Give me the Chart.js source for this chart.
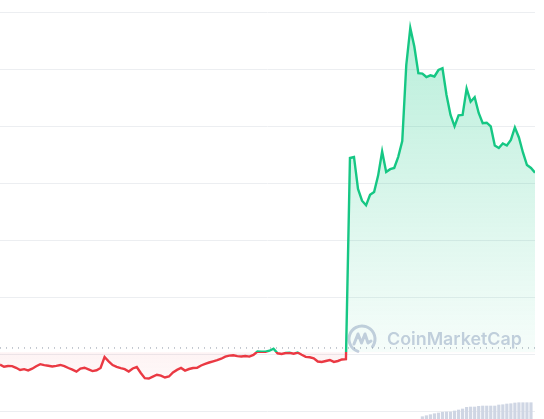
<!DOCTYPE html>
<html>
<head>
<meta charset="utf-8">
<script src="https://cdn.jsdelivr.net/npm/chart.js@4.4.1/dist/chart.umd.min.js"></script>
<style>
  html, body { margin: 0; padding: 0; background: #fff; }
  #wrap { width: 544px; height: 419px; position: relative; }
</style>
</head>
<body>
<div id="wrap"><canvas id="priceChart"></canvas></div>
<script>
// price per step
const prices = [
  0.830, 0.793, 0.807, 0.805, 0.775, 0.737, 0.751, 0.730, 0.760, 0.802,
  0.839, 0.823, 0.811, 0.798, 0.809, 0.825, 0.805, 0.772, 0.742, 0.707,
  0.763, 0.777, 0.747, 0.718, 0.732, 0.772, 0.965, 0.889, 0.823, 0.791,
  0.768, 0.751, 0.711, 0.763, 0.789, 0.684, 0.593, 0.588, 0.621, 0.654,
  0.637, 0.605, 0.623, 0.695, 0.739, 0.772, 0.726, 0.754, 0.772, 0.775,
  0.816, 0.844, 0.868, 0.889, 0.911, 0.935, 0.972, 0.988, 0.995, 0.981,
  0.974, 0.982, 0.972, 1.000, 1.060, 1.058, 1.058, 1.075, 1.109, 1.030,
  1.018, 1.035, 1.039, 1.023, 1.044, 1.004, 0.967, 0.960, 0.942, 0.886,
  0.877, 0.895, 0.912, 0.879, 0.895, 0.921, 0.926,
  4.456, 4.474, 3.912, 3.707, 3.626, 3.812, 3.861, 4.147, 4.570, 4.211,
  4.260, 4.281, 4.477, 4.754, 6.088, 6.737, 6.412, 5.944, 5.937, 5.877,
  5.907, 5.886, 6.000, 6.030, 5.561, 5.211, 5.012, 5.205, 5.211, 5.672,
  5.444, 5.521, 5.246, 5.065, 5.075, 5.009, 4.675, 4.632, 4.712, 4.675,
  4.772, 4.991, 4.816, 4.553, 4.333, 4.281, 4.198
];
// volume bars only show up from this step on
const volumeStart = 105;
const volumes = [
  0.55, 0.79, 1.03, 1.26, 1.43, 1.60, 1.67, 1.67, 1.91, 2.15,
  2.39, 2.79, 2.86, 2.86, 3.03, 3.10, 3.10, 3.10, 3.10, 3.34,
  3.41, 3.58, 3.65, 3.82, 3.89, 3.89, 3.89, 3.89
];
const openPrice = 1.05;   // green above, red below
const refPrice = 1.123;   // dotted reference line

const green = '#16c784';
const red = '#ea3943';

const steps = prices.map((p, i) => i);

function splitFraction(chart) {
    const { chartArea, scales } = chart;
    const split = scales.y.getPixelForValue(openPrice);
    const f = (split - chartArea.top) / (chartArea.bottom - chartArea.top);
    return Math.min(Math.max(f, 0), 1);
}

function lineColor(context) {
    const chart = context.chart;
    if (!chart.chartArea) return green;
    const { ctx, chartArea } = chart;
    const f = splitFraction(chart);
    const g = ctx.createLinearGradient(0, chartArea.top, 0, chartArea.bottom);
    g.addColorStop(0, green);
    g.addColorStop(f, green);
    g.addColorStop(f, red);
    g.addColorStop(1, red);
    return g;
}

function fillColor(context) {
    const chart = context.chart;
    if (!chart.chartArea) return 'rgba(22,199,132,0.15)';
    const { ctx, chartArea } = chart;
    const f = splitFraction(chart);
    const g = ctx.createLinearGradient(0, chartArea.top, 0, chartArea.bottom);
    g.addColorStop(0, 'rgba(22,199,132,0.32)');
    g.addColorStop(f, 'rgba(22,199,132,0.04)');
    g.addColorStop(f, 'rgba(234,57,67,0.06)');
    g.addColorStop(1, 'rgba(234,57,67,0.0)');
    return g;
}

// faint CoinMarketCap watermark behind the line
const watermark = {
    id: 'watermark',
    beforeDatasetsDraw(chart) {
        const { ctx, chartArea } = chart;
        const cx = chartArea.right - 173;
        const cy = chartArea.bottom - 80;
        ctx.save();
        ctx.strokeStyle = '#c9cfe0';
        ctx.fillStyle = '#c9cfe0';
        ctx.lineWidth = 3;
        ctx.lineCap = 'round';
        ctx.lineJoin = 'round';
        ctx.beginPath();
        ctx.arc(cx, cy, 13, 0.6 * Math.PI, 2.2 * Math.PI);
        ctx.stroke();
        ctx.beginPath();
        ctx.moveTo(cx - 8, cy + 5);
        ctx.lineTo(cx - 4, cy - 5);
        ctx.lineTo(cx - 0.5, cy + 4);
        ctx.lineTo(cx + 3, cy - 5);
        ctx.lineTo(cx + 6, cy + 4);
        ctx.lineTo(cx + 9, cy + 2);
        ctx.stroke();
        let size = 18;
        ctx.font = `600 ${size}px Inter, "Noto Sans", sans-serif`;
        const w = ctx.measureText('CoinMarketCap').width;
        size = size * 135 / w;
        ctx.font = `600 ${size}px Inter, "Noto Sans", sans-serif`;
        ctx.textBaseline = 'alphabetic';
        ctx.fillText('CoinMarketCap', chartArea.right - 148, chartArea.bottom - 74);
        ctx.restore();
    }
};

const ctx = document.getElementById('priceChart').getContext('2d');
const priceChart = new Chart(ctx, {
    type: 'line',
    data: {
        datasets: [{
            label: 'Price',
            data: steps.map((x, i) => ({ x: x, y: prices[i] })),
            borderColor: lineColor,
            backgroundColor: fillColor,
            fill: { target: { value: openPrice } },
            borderWidth: 2.4,
            pointRadius: 0,
            tension: 0,
            order: 0
        }, {
            label: 'Reference',
            data: [{ x: 0, y: refPrice }, { x: steps.length - 1, y: refPrice }],
            borderColor: '#8d95a4',
            borderWidth: 1,
            borderDash: [1, 5],
            pointRadius: 0,
            fill: false,
            order: 1
        }, {
            type: 'bar',
            label: 'Volume',
            yAxisID: 'yv',
            data: volumes.map((v, i) => ({ x: volumeStart + i, y: v })),
            backgroundColor: '#cfd6e4',
            barThickness: 2.5,
            order: 2
        }]
    },
    options: {
        responsive: true,
        maintainAspectRatio: false,
        animation: false,
        layout: { padding: { left: 0, right: 9, top: 0, bottom: 0 } },
        plugins: {
            legend: { display: false },
            tooltip: { enabled: false }
        },
        scales: {
            x: {
                type: 'linear',
                min: 0,
                max: steps.length - 1,
                offset: false,
                display: false
            },
            y: {
                min: -0.123,
                max: 7.228,
                ticks: { display: false, stepSize: 1, includeBounds: false },
                grid: { color: '#eceef1', drawTicks: false, lineWidth: 1 },
                border: { display: false }
            },
            yv: {
                display: false,
                min: 0,
                max: 100
            }
        }
    },
    plugins: [watermark]
});
</script>
</body>
</html>
